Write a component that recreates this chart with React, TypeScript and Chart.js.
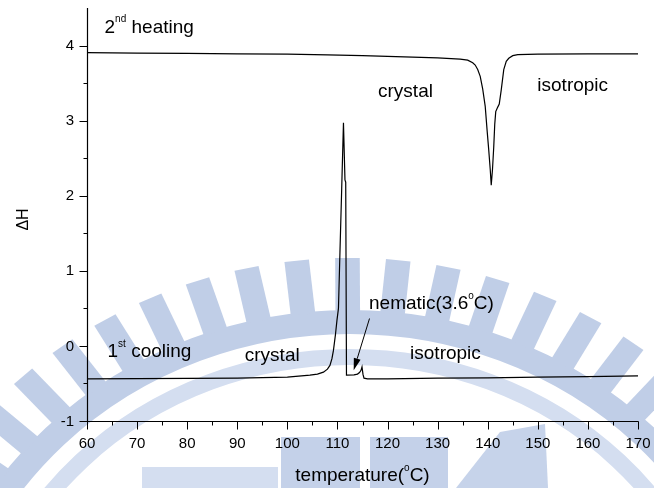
import React, { useEffect, useRef } from "react";
import { Chart, registerables } from "chart.js";

Chart.register(...registerables);

// ---- data ----
const heatingT = [60, 70, 80, 90, 100, 108, 115, 120, 125, 130, 134.5, 136, 137, 137.5, 138, 138.5, 139, 139.5, 139.9, 140.2, 140.5, 140.7, 140.95, 141.2, 141.4, 141.6, 142.0, 142.3, 142.7, 143.2, 143.7, 144.2, 145, 146, 150, 160, 170];
const heatingH = [3.905, 3.9, 3.895, 3.89, 3.885, 3.876, 3.865, 3.855, 3.845, 3.835, 3.82, 3.805, 3.77, 3.74, 3.68, 3.59, 3.42, 3.19, 2.85, 2.61, 2.35, 2.14, 2.35, 2.65, 2.95, 3.12, 3.18, 3.22, 3.41, 3.68, 3.79, 3.83, 3.865, 3.878, 3.885, 3.888, 3.89];

const coolingT = [60, 70, 80, 90, 100, 104.5, 106, 107.2, 108, 108.5, 108.9, 109.2, 109.6, 109.9, 110.2, 110.5, 110.85, 111.2, 111.5, 111.65, 111.8, 113.3, 114.0, 114.4, 114.7, 114.9, 115.1, 115.3, 116, 120, 130, 140, 150, 160, 170];
const coolingH = [-0.44, -0.437, -0.433, -0.428, -0.415, -0.39, -0.375, -0.35, -0.31, -0.26, -0.17, -0.06, 0.15, 0.34, 0.5, 1.25, 2.1, 2.97, 2.21, 2.18, -0.39, -0.385, -0.375, -0.355, -0.325, -0.28, -0.38, -0.43, -0.44, -0.438, -0.43, -0.425, -0.415, -0.41, -0.4];

const xMin = 60;
const xMax = 170;
const xStep = 5;
const xLabelStep = 10;
const yMin = -1;
const yMax = 4.5;
const yStep = 0.5;

const xTitle: [string, boolean][] = [["temperature(", false], ["o", true], ["C)", false]];
const yTitle = "\u0394H";

// annotations: [x(°C), y(ΔH), parts]
const notes: { x: number; y: number; parts: [string, boolean][] }[] = [
  { x: 63.5, y: 4.17, parts: [["2", false], ["nd", true], [" heating", false]] },
  { x: 118.1, y: 3.316, parts: [["crystal", false]] },
  { x: 149.9, y: 3.396, parts: [["isotropic", false]] },
  { x: 64.1, y: -0.15, parts: [["1", false], ["st", true], [" cooling", false]] },
  { x: 91.5, y: -0.204, parts: [["crystal", false]] },
  { x: 116.3, y: 0.49, parts: [["nematic(3.6", false], ["o", true], ["C)", false]] },
  { x: 124.5, y: -0.18, parts: [["isotropic", false]] },
];
const arrowFrom = { x: 116.4, y: 0.365 };
const arrowTo = { x: 113.24, y: -0.323 };

const FONT = '"Liberation Sans", Arial, Helvetica, sans-serif';

function drawRich(ctx: CanvasRenderingContext2D, x: number, y: number, parts: [string, boolean][], size: number, align: "left" | "center") {
  const mainFont = `${size}px ${FONT}`;
  const supFont = `${Math.round(size * 0.53)}px ${FONT}`;
  let total = 0;
  const widths: number[] = [];
  for (const [t, sup] of parts) {
    ctx.font = sup ? supFont : mainFont;
    const w = ctx.measureText(t).width;
    widths.push(w);
    total += w;
  }
  let cx = align === "center" ? x - total / 2 : x;
  ctx.textAlign = "left";
  ctx.textBaseline = "alphabetic";
  parts.forEach(([t, sup], i) => {
    ctx.font = sup ? supFont : mainFont;
    ctx.fillText(t, cx, sup ? y - size * 0.55 : y);
    cx += widths[i];
  });
}

function drawWatermark(ctx: CanvasRenderingContext2D) {
  const teeth = "rgb(192,206,231)";
  const light = "rgb(212,222,240)";
  ctx.save();
  ctx.translate(350, 712);
  ctx.scale(1.07, 1);
  ctx.strokeStyle = light;
  ctx.lineWidth = 16;
  ctx.beginPath();
  ctx.arc(0, 0, 355, Math.PI, 2 * Math.PI);
  ctx.stroke();
  ctx.strokeStyle = teeth;
  ctx.lineWidth = 24;
  ctx.beginPath();
  ctx.arc(0, 0, 390, Math.PI, 2 * Math.PI);
  ctx.stroke();
  ctx.fillStyle = teeth;
  for (let k = -14; k <= 14; k++) {
    const a = ((-96.3 + 6 * k) * Math.PI) / 180;
    if (a < -Math.PI || a > 0) continue;
    ctx.save();
    ctx.rotate(a);
    ctx.fillRect(400, -11.5, 54, 23);
    ctx.restore();
  }
  ctx.restore();
  ctx.fillStyle = "rgb(196,209,233)";
  ctx.fillRect(281, 437, 79, 51);
  ctx.fillRect(370, 437, 78, 51);
  ctx.fillStyle = light;
  ctx.fillRect(142, 467, 136, 21);
  ctx.fillStyle = "rgb(198,211,234)";
  ctx.beginPath();
  ctx.moveTo(456, 488);
  ctx.lineTo(500, 432);
  ctx.lineTo(545, 424);
  ctx.lineTo(548, 488);
  ctx.closePath();
  ctx.fill();
}

const decorPlugin = {
  id: "decor",
  beforeDraw(chart: any) {
    const ctx: CanvasRenderingContext2D = chart.ctx;
    ctx.save();
    ctx.fillStyle = "#fff";
    ctx.fillRect(0, 0, chart.width, chart.height);
    drawWatermark(ctx);
    ctx.restore();
  },
  afterDraw(chart: any) {
    const ctx: CanvasRenderingContext2D = chart.ctx;
    const xs = chart.scales.x;
    const ys = chart.scales.y;
    const { left, right, top, bottom } = chart.chartArea;
    ctx.save();
    ctx.strokeStyle = "#000";
    ctx.fillStyle = "#000";
    ctx.lineWidth = 1.2;
    const L = Math.round(left) + 0.5;
    const B = Math.round(bottom) + 0.5;
    ctx.beginPath();
    ctx.moveTo(L, top);
    ctx.lineTo(L, B);
    ctx.lineTo(Math.round(right) + 0.5, B);
    ctx.stroke();

    ctx.lineWidth = 1;
    ctx.beginPath();
    for (const t of ys.ticks) {
      const v = t.value;
      if (v >= yMax) continue;
      const py = Math.round(ys.getPixelForValue(v)) + 0.5;
      const len = Math.abs(v - Math.round(v)) < 1e-6 ? 8 : 4;
      ctx.moveTo(L, py);
      ctx.lineTo(L - len, py);
    }
    for (const t of xs.ticks) {
      const v = t.value;
      const px = Math.round(xs.getPixelForValue(v)) + 0.5;
      const len = Math.abs(v % xLabelStep) < 1e-6 ? 8 : 4;
      ctx.moveTo(px, B);
      ctx.lineTo(px, B + len);
    }
    ctx.stroke();

    ctx.font = `15px ${FONT}`;
    ctx.textAlign = "right";
    ctx.textBaseline = "middle";
    for (const t of ys.ticks) {
      const v = t.value;
      if (Math.abs(v - Math.round(v)) > 1e-6 || v >= yMax) continue;
      ctx.fillText(String(Math.round(v)), L - 13.5, ys.getPixelForValue(v) + 0.5);
    }
    ctx.textAlign = "center";
    ctx.textBaseline = "alphabetic";
    for (const t of xs.ticks) {
      const v = t.value;
      if (Math.abs(v % xLabelStep) > 1e-6) continue;
      ctx.fillText(String(v), xs.getPixelForValue(v), B + 26);
    }

    drawRich(ctx, (left + right) / 2, 481, xTitle, 19, "center");

    ctx.save();
    ctx.translate(24, (top + bottom) / 2 + 5);
    ctx.rotate(-Math.PI / 2);
    ctx.font = `16px ${FONT}`;
    ctx.textAlign = "center";
    ctx.textBaseline = "middle";
    ctx.fillText(yTitle, 0, 0);
    ctx.restore();

    for (const n of notes) {
      drawRich(ctx, xs.getPixelForValue(n.x), ys.getPixelForValue(n.y), n.parts, 19, "left");
    }

    // arrow
    const x0 = xs.getPixelForValue(arrowFrom.x);
    const y0 = ys.getPixelForValue(arrowFrom.y);
    const x1 = xs.getPixelForValue(arrowTo.x);
    const y1 = ys.getPixelForValue(arrowTo.y);
    const ang = Math.atan2(y1 - y0, x1 - x0);
    const hl = 12;
    const hw = 3.5;
    const bx = x1 - hl * Math.cos(ang);
    const by = y1 - hl * Math.sin(ang);
    ctx.lineWidth = 1;
    ctx.beginPath();
    ctx.moveTo(x0, y0);
    ctx.lineTo(bx, by);
    ctx.stroke();
    ctx.beginPath();
    ctx.moveTo(x1, y1);
    ctx.lineTo(bx + hw * Math.sin(ang), by - hw * Math.cos(ang));
    ctx.lineTo(bx - hw * Math.sin(ang), by + hw * Math.cos(ang));
    ctx.closePath();
    ctx.fill();
    ctx.restore();
  },
};

export default function App() {
  const ref = useRef<HTMLCanvasElement | null>(null);
  useEffect(() => {
    document.body.style.margin = "0";
    document.body.style.background = "#fff";
    const canvas = ref.current;
    if (!canvas) return;
    const chart = new Chart(canvas, {
      type: "line",
      data: {
        datasets: [
          {
            data: heatingT.map((t, i) => ({ x: t, y: heatingH[i] })),
            borderColor: "#000",
            borderWidth: 1.2,
            pointRadius: 0,
            tension: 0,
            fill: false,
          },
          {
            data: coolingT.map((t, i) => ({ x: t, y: coolingH[i] })),
            borderColor: "#000",
            borderWidth: 1.2,
            pointRadius: 0,
            tension: 0,
            fill: false,
          },
        ],
      },
      options: {
        animation: false,
        responsive: false,
        maintainAspectRatio: false,
        devicePixelRatio: 1,
        layout: { padding: { top: 8, right: 16, bottom: 0, left: 0 } },
        plugins: { legend: { display: false }, tooltip: { enabled: false } },
        scales: {
          x: {
            type: "linear",
            min: xMin,
            max: xMax,
            ticks: { display: false, stepSize: xStep },
            grid: { display: false },
            border: { display: false },
            afterFit: (s: any) => {
              s.height = 67;
            },
          },
          y: {
            type: "linear",
            min: yMin,
            max: yMax,
            ticks: { display: false, stepSize: yStep },
            grid: { display: false },
            border: { display: false },
            afterFit: (s: any) => {
              s.width = 87;
            },
          },
        },
      },
      plugins: [decorPlugin],
    } as any);
    return () => chart.destroy();
  }, []);
  return <canvas ref={ref} width={654} height={488} style={{ display: "block", width: 654, height: 488 }} />;
}
